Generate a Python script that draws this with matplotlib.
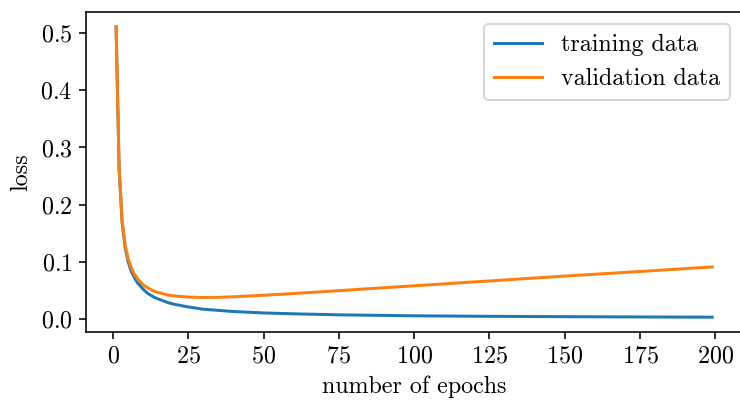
import matplotlib
matplotlib.use("Agg")
import matplotlib.pyplot as plt

plt.rcParams['font.family'] = 'serif'
plt.rcParams['font.serif'] = ['cmr10']
plt.rcParams['mathtext.fontset'] = 'cm'
plt.rcParams['axes.formatter.use_mathtext'] = True
plt.rcParams['font.size'] = 12

epochs = [1, 2, 3, 4, 5, 6, 7, 8, 9, 10, 11, 12, 13, 14, 15, 16, 18, 20, 22, 25,
          30, 35, 40, 50, 60, 75, 100, 125, 150, 175, 199]
training_loss = [0.511, 0.262, 0.168, 0.125, 0.100, 0.084, 0.073, 0.064, 0.058,
                 0.052, 0.047, 0.043, 0.040, 0.037, 0.035, 0.033, 0.029, 0.026,
                 0.024, 0.021, 0.017, 0.0150, 0.0130, 0.0105, 0.0090, 0.0072,
                 0.0055, 0.0046, 0.0040, 0.0035, 0.0031]
validation_loss = [0.511, 0.265, 0.172, 0.130, 0.105, 0.090, 0.079, 0.071, 0.065,
                   0.060, 0.056, 0.053, 0.050, 0.048, 0.0465, 0.045, 0.042,
                   0.0405, 0.0395, 0.0383, 0.0375, 0.0378, 0.0388, 0.0415,
                   0.0445, 0.0495, 0.0580, 0.0665, 0.0750, 0.0830, 0.0910]

fig = plt.figure(figsize=(740 / 144, 401 / 144), dpi=144)
ax = fig.add_axes([86.3 / 740, 1 - 331.7 / 401, (742.0 - 86.3) / 740, (331.7 - 12.3) / 401])
ax.plot(epochs, training_loss, color='#1f77b4', label='training data')
ax.plot(epochs, validation_loss, color='#ff7f0e', label='validation data')
ax.set_xlabel('number of epochs')
ax.set_ylabel('loss')
ax.set_xticks([0, 25, 50, 75, 100, 125, 150, 175, 200])
ax.set_yticks([0.0, 0.1, 0.2, 0.3, 0.4, 0.5])
ax.legend(loc='upper right')
fig.savefig('out.png', dpi=144)
